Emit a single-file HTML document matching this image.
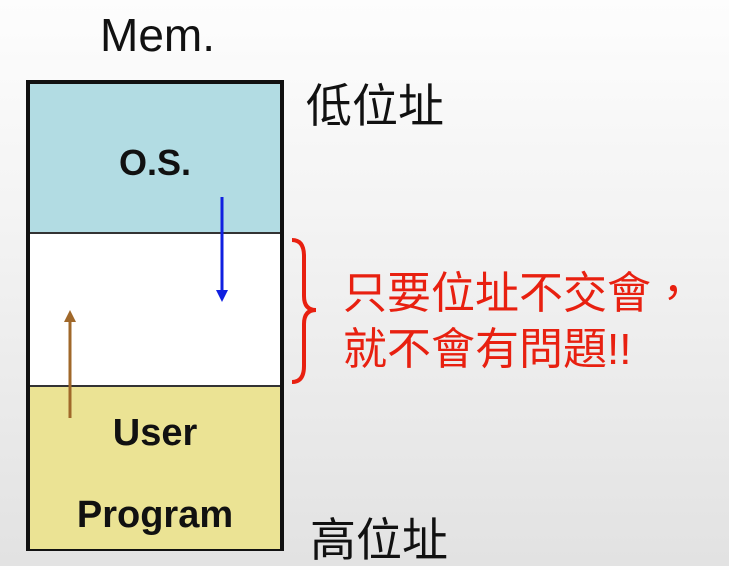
<!DOCTYPE html>
<html><head><meta charset="utf-8"><style>
body{margin:0;width:729px;height:566px;overflow:hidden;background:linear-gradient(#fdfdfd 0%,#f3f3f3 40%,#e2e2e2 100%);font-family:"Liberation Sans","Noto Sans CJK TC",sans-serif;position:relative}
.a{position:absolute;white-space:nowrap}
</style></head><body>
<div class="a" style="left:100px;top:8px;font-size:46px;color:#111">Mem.</div>
<div class="a" style="left:26px;top:80px;width:250px;height:463px;border:4px solid #111;background:#fff">
 <div class="a" style="left:0;top:0;width:250px;height:148px;background:#b2dce3;border-bottom:2px solid #333"></div>
 <div class="a" style="left:0;top:301px;width:250px;height:162px;background:#ebe394;border-top:2px solid #333"></div>
 <div class="a" style="left:0;top:58px;width:250px;text-align:center;font-weight:bold;font-size:36px;color:#111">O.S.</div>
 <div class="a" style="left:0;top:328px;width:250px;text-align:center;font-weight:bold;font-size:38px;color:#111">User</div>
 <div class="a" style="left:0;top:410px;width:250px;text-align:center;font-weight:bold;font-size:38px;color:#111">Program</div>
</div>
<svg class="a" style="left:0;top:0" width="729" height="566">
<line x1="222" y1="197" x2="222" y2="292" stroke="#1020e0" stroke-width="3"/>
<polygon points="216,290 228,290 222,302" fill="#1020e0"/>
<line x1="70" y1="418" x2="70" y2="320" stroke="#a0682a" stroke-width="3"/>
<polygon points="64,322 76,322 70,310" fill="#a0682a"/>
<path d="M292,240 Q304,240 304,256 L304,296 Q304,310 316,310 Q304,310 304,324 L304,366 Q304,382 292,382" fill="none" stroke="#e82010" stroke-width="4"/>
</svg>
<div class="a" style="left:306px;top:70px;font-size:46px;color:#111">低位址</div>
<div class="a" style="left:310px;top:504px;font-size:46px;color:#111">高位址</div>
<div class="a" style="left:343px;top:266px;font-size:44px;line-height:56px;color:#e82010">只要位址不交會，<br>就不會有問題!!</div>
</body></html>
